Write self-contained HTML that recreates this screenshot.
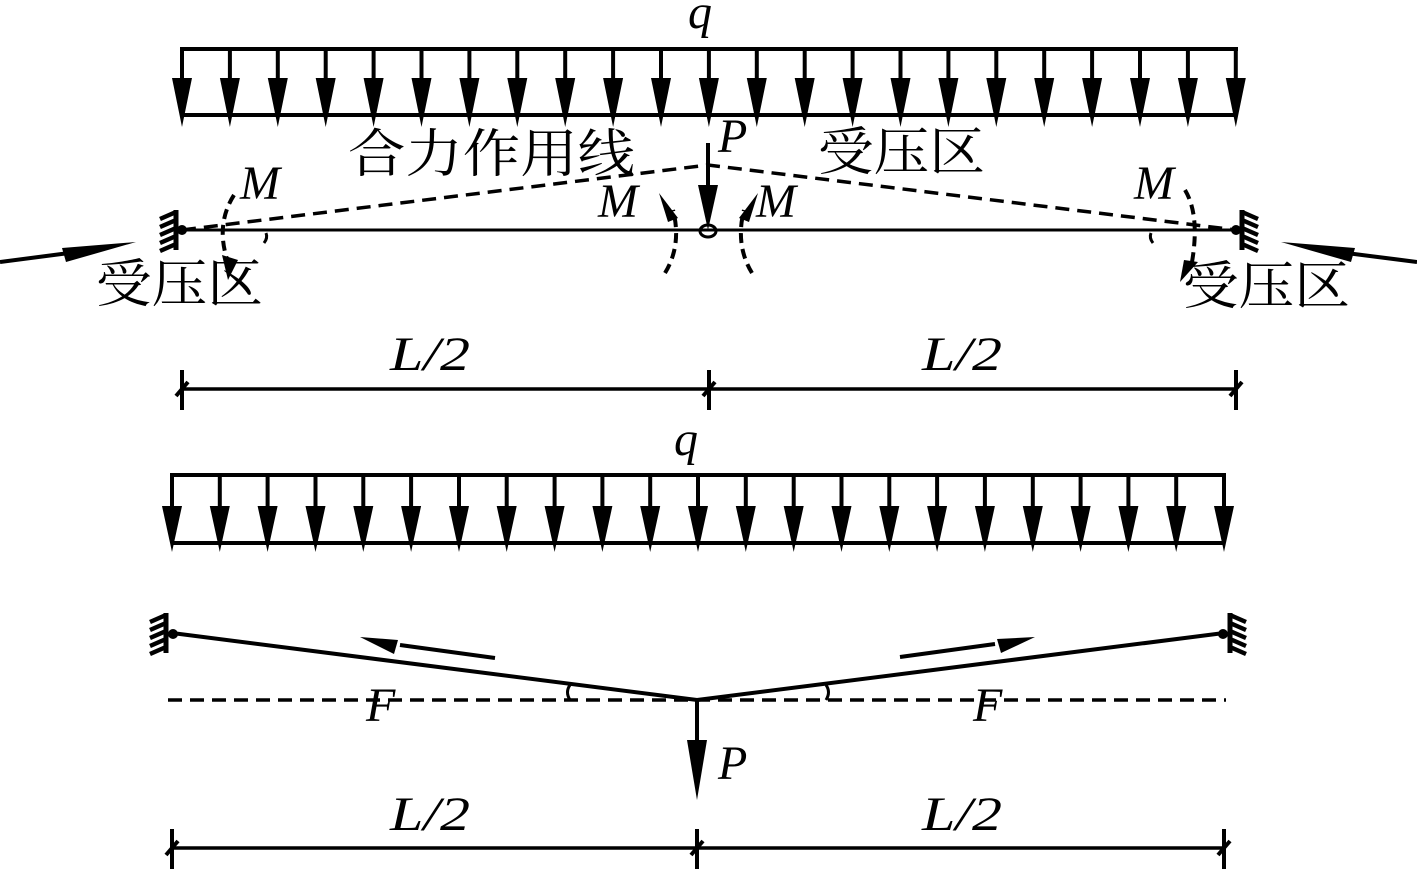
<!DOCTYPE html>
<html><head><meta charset="utf-8"><style>
html,body{margin:0;padding:0;background:#fff;}
svg{display:block}
.t{font-family:"Liberation Serif","Noto Serif CJK SC",serif;font-style:italic;font-size:48px;fill:#000}
.c{font-family:"Noto Serif CJK SC","Noto Sans CJK SC",serif;font-size:52px;fill:#000}
</style></head><body>
<svg width="1417" height="874" viewBox="0 0 1417 874" xmlns="http://www.w3.org/2000/svg">
<defs>
<g id="a1"><line x1="0" y1="49" x2="0" y2="82" stroke="#000" stroke-width="4"/><polygon points="-10,78 10,78 0,127" fill="#000"/></g>
<g id="a2"><line x1="0" y1="475" x2="0" y2="510" stroke="#000" stroke-width="4"/><polygon points="-10,506 10,506 0,552" fill="#000"/></g>
<g id="hl"><line x1="0" y1="0" x2="0" y2="40" stroke="#000" stroke-width="5"/>
<g stroke="#000" stroke-width="4.5"><line x1="0" y1="2" x2="-16" y2="9"/><line x1="0" y1="10" x2="-16" y2="17"/><line x1="0" y1="18" x2="-16" y2="25"/><line x1="0" y1="26" x2="-16" y2="33"/><line x1="0" y1="34" x2="-16" y2="41"/></g></g>
<g id="hr"><line x1="0" y1="0" x2="0" y2="40" stroke="#000" stroke-width="5"/>
<g stroke="#000" stroke-width="4.5"><line x1="0" y1="2" x2="16" y2="9"/><line x1="0" y1="10" x2="16" y2="17"/><line x1="0" y1="18" x2="16" y2="25"/><line x1="0" y1="26" x2="16" y2="33"/><line x1="0" y1="34" x2="16" y2="41"/></g></g>
</defs>

<text class="t" x="688" y="28">q</text>
<line x1="180" y1="49" x2="1238" y2="49" stroke="#000" stroke-width="4"/>
<line x1="182" y1="115" x2="1236" y2="115" stroke="#000" stroke-width="4"/>
<g>
<use href="#a1" x="182"/><use href="#a1" x="229.9"/><use href="#a1" x="277.8"/><use href="#a1" x="325.7"/><use href="#a1" x="373.6"/><use href="#a1" x="421.5"/><use href="#a1" x="469.4"/><use href="#a1" x="517.3"/><use href="#a1" x="565.2"/><use href="#a1" x="613.1"/><use href="#a1" x="661"/><use href="#a1" x="708.9"/><use href="#a1" x="756.8"/><use href="#a1" x="804.7"/><use href="#a1" x="852.6"/><use href="#a1" x="900.5"/><use href="#a1" x="948.4"/><use href="#a1" x="996.3"/><use href="#a1" x="1044.2"/><use href="#a1" x="1092.1"/><use href="#a1" x="1140"/><use href="#a1" x="1187.9"/><use href="#a1" x="1235.8"/>
</g>

<text class="c" x="348" y="172" textLength="287" lengthAdjust="spacingAndGlyphs">合力作用线</text>
<text class="c" x="818" y="170" textLength="167" lengthAdjust="spacingAndGlyphs">受压区</text>
<text class="c" x="96" y="302" textLength="167" lengthAdjust="spacingAndGlyphs">受压区</text>
<text class="c" x="1183" y="304" textLength="167" lengthAdjust="spacingAndGlyphs">受压区</text>
<line x1="182" y1="230" x2="1236" y2="230" stroke="#000" stroke-width="3"/>
<polyline points="182,230 708,165 1236,230" fill="none" stroke="#000" stroke-width="3.5" stroke-dasharray="14,8"/>
<use href="#hl" x="176" y="210"/>
<use href="#hr" x="1242" y="210"/>
<circle cx="182" cy="230" r="5" fill="#000"/>
<circle cx="1236" cy="230" r="5" fill="#000"/>
<ellipse cx="708" cy="231" rx="8" ry="6" fill="none" stroke="#000" stroke-width="3"/>
<text class="t" x="718" y="152">P</text>
<line x1="708" y1="143" x2="708" y2="190" stroke="#000" stroke-width="4"/>
<polygon points="698,185 718,185 708,230" fill="#000"/>
<line x1="0" y1="262" x2="100" y2="249" stroke="#000" stroke-width="4"/>
<polygon points="62,248 136,242 66,262" fill="#000"/>
<line x1="1417" y1="262" x2="1315" y2="249" stroke="#000" stroke-width="4"/>
<polygon points="1355,248 1281,242 1351,262" fill="#000"/>
<text class="t" x="240" y="199">M</text>
<text class="t" x="598" y="217">M</text>
<text class="t" x="756" y="217">M</text>
<text class="t" x="1134" y="199">M</text>
<path d="M234,195 Q215,225 228,262" fill="none" stroke="#000" stroke-width="4" stroke-dasharray="10,6"/>
<polygon points="222,255 238,260 228,280" fill="#000"/>
<path d="M1185,190 Q1200,215 1192,262" fill="none" stroke="#000" stroke-width="4" stroke-dasharray="10,6"/>
<polygon points="1184,260 1198,262 1180,282" fill="#000"/>
<path d="M665,273 Q682,245 673,210" fill="none" stroke="#000" stroke-width="4" stroke-dasharray="10,6"/>
<polygon points="659,193 678,218 668,222" fill="#000"/>
<path d="M752,273 Q735,245 744,210" fill="none" stroke="#000" stroke-width="4" stroke-dasharray="10,6"/>
<polygon points="758,193 739,218 749,222" fill="#000"/>
<path d="M266,233 Q268,238 264,243" fill="none" stroke="#000" stroke-width="3"/>
<path d="M1151,233 Q1149,238 1153,243" fill="none" stroke="#000" stroke-width="3"/>

<text class="t" x="390" y="370" textLength="80" lengthAdjust="spacingAndGlyphs">L/2</text>
<text class="t" x="922" y="370" textLength="80" lengthAdjust="spacingAndGlyphs">L/2</text>
<line x1="182" y1="389" x2="1238" y2="389" stroke="#000" stroke-width="3.5"/>
<g stroke="#000" stroke-width="4">
<line x1="182" y1="370" x2="182" y2="410"/><line x1="176" y1="396" x2="188" y2="382"/>
<line x1="709" y1="370" x2="709" y2="410"/><line x1="703" y1="396" x2="715" y2="382"/>
<line x1="1236" y1="370" x2="1236" y2="410"/><line x1="1230" y1="396" x2="1242" y2="382"/>
</g>

<text class="t" x="674" y="455">q</text>
<line x1="170" y1="475" x2="1226" y2="475" stroke="#000" stroke-width="4"/>
<line x1="172" y1="543" x2="1224" y2="543" stroke="#000" stroke-width="4"/>
<g>
<use href="#a2" x="172"/><use href="#a2" x="219.8"/><use href="#a2" x="267.6"/><use href="#a2" x="315.5"/><use href="#a2" x="363.3"/><use href="#a2" x="411.1"/><use href="#a2" x="459"/><use href="#a2" x="506.7"/><use href="#a2" x="554.6"/><use href="#a2" x="602.4"/><use href="#a2" x="650.2"/><use href="#a2" x="698"/><use href="#a2" x="745.8"/><use href="#a2" x="793.7"/><use href="#a2" x="841.5"/><use href="#a2" x="889.3"/><use href="#a2" x="937.1"/><use href="#a2" x="984.9"/><use href="#a2" x="1032.8"/><use href="#a2" x="1080.6"/><use href="#a2" x="1128.4"/><use href="#a2" x="1176.2"/><use href="#a2" x="1224"/>
</g>

<line x1="168" y1="700" x2="1226" y2="700" stroke="#000" stroke-width="3.5" stroke-dasharray="14,8"/>
<polyline points="172,633 697,700 1224,633" fill="none" stroke="#000" stroke-width="4"/>
<use href="#hl" x="166" y="613"/>
<use href="#hr" x="1230" y="613"/>
<circle cx="173" cy="634" r="5" fill="#000"/>
<circle cx="1223" cy="634" r="5" fill="#000"/>
<line x1="495" y1="658" x2="400" y2="645" stroke="#000" stroke-width="4"/>
<polygon points="360,637 398,640 394,654" fill="#000"/>
<line x1="900" y1="657" x2="995" y2="644" stroke="#000" stroke-width="4"/>
<polygon points="1035,637 997,639 1001,653" fill="#000"/>
<path d="M570,685 Q565,692 570,700" fill="none" stroke="#000" stroke-width="3"/>
<path d="M826,685 Q831,692 826,700" fill="none" stroke="#000" stroke-width="3"/>
<text class="t" x="366" y="721">F</text>
<text class="t" x="973" y="721">F</text>
<line x1="697" y1="700" x2="697" y2="745" stroke="#000" stroke-width="4"/>
<polygon points="687,740 707,740 697,800" fill="#000"/>
<text class="t" x="718" y="779">P</text>

<text class="t" x="390" y="830" textLength="80" lengthAdjust="spacingAndGlyphs">L/2</text>
<text class="t" x="922" y="830" textLength="80" lengthAdjust="spacingAndGlyphs">L/2</text>
<line x1="172" y1="848" x2="1226" y2="848" stroke="#000" stroke-width="3.5"/>
<g stroke="#000" stroke-width="4">
<line x1="172" y1="829" x2="172" y2="869"/><line x1="166" y1="855" x2="178" y2="841"/>
<line x1="697" y1="829" x2="697" y2="869"/><line x1="691" y1="855" x2="703" y2="841"/>
<line x1="1224" y1="829" x2="1224" y2="869"/><line x1="1218" y1="855" x2="1230" y2="841"/>
</g>
</svg>
</body></html>
